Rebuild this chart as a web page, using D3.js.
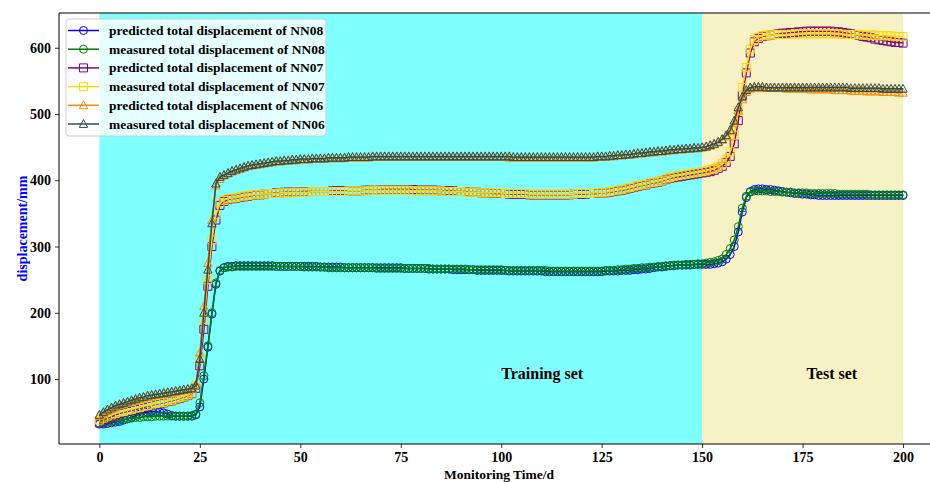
<!DOCTYPE html>
<html>
<head>
<meta charset="utf-8">
<script src="https://cdn.jsdelivr.net/npm/d3@7.9.0/dist/d3.min.js"></script>
<style>
    body { margin: 0; background: #fff; }
    svg text { font-family: "Liberation Serif", "Times New Roman", serif; font-weight: bold; }
</style>
</head>
<body>
<svg id="chart" width="930" height="482"></svg>
<script>
// Values, one value per monitoring day (0..200)
const nn08Predicted = [
    32, 32, 33, 34, 35, 36, 38, 40, 42, 45, 47, 49, 50, 51, 51, 50, 49, 47, 45, 44,
    44, 44, 44, 44, 46, 58, 100, 148, 198, 243, 263, 268, 270, 270, 271, 271, 271, 271, 271, 271,
    271, 271, 271, 271, 270, 270, 270, 270, 270, 270, 270, 270, 270, 270, 270, 269, 269, 269, 269, 269,
    269, 268, 268, 268, 268, 268, 268, 268, 268, 268, 268, 268, 268, 268, 268, 268, 267, 267, 267, 267,
    267, 267, 266, 266, 266, 266, 266, 266, 265, 265, 265, 265, 265, 265, 264, 264, 264, 264, 264, 264,
    264, 264, 263, 263, 263, 263, 263, 263, 263, 263, 263, 262, 262, 262, 262, 262, 262, 262, 262, 262,
    262, 262, 262, 262, 262, 262, 263, 263, 263, 263, 264, 264, 264, 265, 265, 266, 266, 267, 268, 269,
    269, 270, 271, 271, 272, 272, 272, 272, 273, 273, 273, 273, 273, 274, 275, 277, 281, 288, 300, 322,
    352, 374, 383, 386, 387, 387, 386, 386, 385, 384, 383, 382, 381, 380, 380, 379, 379, 378, 378, 377,
    377, 377, 377, 377, 377, 377, 377, 377, 377, 377, 377, 377, 377, 377, 377, 377, 377, 377, 377, 377,
    377
];
const nn08Measured = [
    33, 34, 35, 36, 37, 38, 39, 40, 41, 42, 42, 43, 43, 43, 44, 44, 44, 44, 44, 44,
    44, 44, 44, 45, 47, 64, 105, 150, 200, 245, 264, 268, 269, 269, 270, 270, 270, 270, 270, 270,
    270, 270, 270, 270, 270, 270, 270, 270, 270, 270, 270, 269, 269, 269, 269, 269, 269, 268, 268, 268,
    268, 268, 268, 268, 268, 268, 268, 268, 268, 267, 267, 267, 267, 267, 267, 267, 267, 267, 267, 267,
    267, 267, 267, 266, 266, 266, 266, 266, 266, 266, 266, 266, 265, 265, 265, 265, 265, 265, 265, 265,
    265, 264, 264, 264, 264, 264, 264, 264, 264, 264, 264, 264, 263, 263, 263, 263, 263, 263, 263, 263,
    263, 263, 263, 263, 263, 263, 264, 264, 264, 265, 265, 266, 266, 267, 267, 268, 268, 269, 269, 270,
    270, 271, 271, 272, 272, 272, 273, 273, 273, 274, 274, 275, 276, 277, 279, 281, 288, 297, 310, 330,
    358, 376, 382, 384, 384, 384, 384, 383, 383, 383, 382, 382, 382, 381, 381, 381, 381, 380, 380, 380,
    380, 380, 380, 380, 379, 379, 379, 379, 379, 379, 379, 379, 378, 378, 378, 378, 378, 378, 378, 378,
    378
];
const nn07Predicted = [
    34, 37, 40, 43, 46, 48, 50, 51, 53, 54, 56, 57, 59, 60, 62, 63, 64, 66, 67, 69,
    71, 73, 75, 78, 86, 120, 175, 240, 300, 340, 362, 368, 371, 372, 373, 374, 375, 376, 377, 378,
    378, 379, 380, 380, 381, 381, 382, 382, 382, 382, 383, 383, 383, 383, 383, 383, 383, 383, 384, 384,
    384, 384, 384, 384, 384, 384, 385, 385, 385, 385, 386, 386, 386, 386, 386, 386, 386, 386, 386, 385,
    385, 385, 385, 385, 385, 384, 384, 384, 384, 383, 383, 383, 382, 382, 382, 381, 381, 381, 380, 380,
    380, 380, 379, 379, 379, 379, 379, 378, 378, 378, 378, 378, 378, 378, 378, 378, 378, 378, 379, 379,
    379, 379, 380, 380, 380, 381, 381, 382, 383, 384, 385, 386, 388, 389, 391, 392, 393, 395, 396, 397,
    399, 401, 403, 404, 405, 406, 407, 408, 409, 410, 411, 412, 413, 415, 418, 421, 427, 436, 455, 490,
    528, 562, 592, 609, 614, 617, 618, 619, 620, 621, 622, 622, 623, 623, 624, 624, 625, 625, 625, 625,
    625, 625, 625, 624, 624, 623, 622, 621, 620, 619, 617, 616, 615, 613, 612, 611, 610, 609, 608, 608,
    607
];
const nn07Measured = [
    38, 41, 44, 46, 48, 50, 51, 53, 54, 56, 57, 59, 60, 61, 63, 64, 65, 67, 68, 70,
    72, 74, 76, 79, 90, 130, 190, 250, 310, 348, 366, 370, 372, 373, 374, 375, 376, 377, 378, 378,
    379, 379, 380, 380, 380, 381, 381, 381, 381, 382, 382, 382, 382, 383, 383, 383, 383, 383, 383, 383,
    383, 383, 384, 384, 384, 384, 384, 384, 385, 385, 385, 385, 385, 385, 385, 385, 385, 385, 384, 384,
    384, 384, 384, 384, 384, 384, 383, 383, 383, 383, 383, 382, 382, 382, 382, 381, 381, 381, 381, 381,
    381, 380, 380, 380, 380, 380, 380, 379, 379, 379, 379, 379, 379, 379, 379, 379, 379, 379, 379, 380,
    380, 380, 380, 381, 381, 381, 382, 383, 384, 385, 386, 387, 389, 390, 392, 393, 394, 396, 397, 398,
    400, 402, 404, 406, 407, 408, 409, 410, 411, 412, 413, 414, 416, 418, 421, 425, 432, 443, 468, 505,
    540, 570, 598, 612, 616, 618, 619, 619, 620, 620, 620, 620, 620, 621, 621, 621, 621, 621, 621, 621,
    621, 621, 621, 621, 621, 620, 620, 620, 620, 620, 619, 619, 619, 619, 618, 618, 618, 618, 617, 617,
    617
];
const nn06Predicted = [
    44, 48, 52, 55, 58, 60, 62, 64, 66, 68, 70, 72, 73, 75, 76, 77, 78, 79, 80, 81,
    82, 83, 84, 85, 92, 140, 210, 275, 340, 392, 402, 407, 410, 413, 415, 417, 419, 421, 422, 423,
    424, 425, 426, 427, 428, 428, 429, 429, 430, 430, 431, 431, 431, 432, 432, 432, 432, 433, 433, 433,
    433, 433, 434, 434, 434, 434, 434, 434, 435, 435, 435, 435, 435, 435, 435, 435, 435, 435, 435, 435,
    435, 435, 435, 435, 435, 435, 435, 435, 435, 435, 435, 435, 435, 435, 435, 435, 435, 435, 435, 435,
    435, 435, 434, 434, 434, 434, 434, 434, 434, 434, 434, 434, 434, 434, 434, 434, 434, 434, 434, 434,
    434, 434, 434, 434, 435, 435, 435, 436, 436, 437, 437, 438, 438, 439, 440, 440, 441, 442, 442, 443,
    443, 444, 445, 445, 446, 446, 447, 447, 448, 448, 449, 450, 452, 454, 457, 461, 466, 474, 486, 505,
    522, 533, 538, 539, 539, 539, 539, 539, 539, 539, 539, 538, 538, 538, 538, 538, 538, 537, 537, 537,
    537, 537, 537, 536, 536, 536, 536, 535, 535, 535, 535, 534, 534, 534, 534, 533, 533, 533, 533, 532,
    532
];
const nn06Measured = [
    46, 50, 54, 57, 60, 62, 64, 66, 68, 70, 72, 73, 75, 76, 77, 78, 79, 80, 81, 82,
    83, 84, 85, 86, 90, 130, 200, 265, 335, 395, 405, 408, 411, 414, 416, 418, 420, 422, 423, 424,
    425, 426, 427, 428, 429, 429, 430, 430, 431, 431, 432, 432, 432, 433, 433, 433, 433, 434, 434, 434,
    434, 434, 435, 435, 435, 435, 435, 435, 436, 436, 436, 436, 436, 436, 436, 436, 436, 436, 436, 436,
    436, 436, 436, 436, 436, 436, 436, 436, 436, 436, 436, 436, 436, 436, 436, 436, 436, 436, 436, 436,
    436, 436, 436, 435, 435, 435, 435, 435, 435, 435, 435, 435, 435, 435, 435, 435, 435, 435, 435, 435,
    435, 435, 435, 435, 436, 436, 436, 437, 437, 438, 438, 439, 439, 440, 441, 441, 442, 443, 443, 444,
    444, 445, 446, 446, 447, 447, 448, 448, 449, 449, 450, 451, 453, 455, 458, 462, 468, 476, 490, 510,
    526, 536, 540, 541, 541, 541, 540, 540, 540, 540, 540, 540, 540, 540, 540, 540, 540, 540, 540, 540,
    540, 540, 540, 540, 540, 540, 540, 539, 539, 539, 539, 539, 539, 539, 539, 538, 538, 538, 538, 538,
    538
];

const xTicks = [0, 25, 50, 75, 100, 125, 150, 175, 200];
const yTicks = [100, 200, 300, 400, 500, 600];
const trainingSpan = [0, 150];
const testSpan = [150, 200];

// Series in plotting order (later ones are drawn on top)
const series = [
    { label: 'predicted total displacement of NN08', values: nn08Predicted, color: '#0000ff', marker: 'circle' },
    { label: 'measured total displacement of NN08', values: nn08Measured, color: '#008000', marker: 'circle' },
    { label: 'predicted total displacement of NN07', values: nn07Predicted, color: '#800080', marker: 'square' },
    { label: 'measured total displacement of NN07', values: nn07Measured, color: '#ffd700', marker: 'square' },
    { label: 'predicted total displacement of NN06', values: nn06Predicted, color: '#ff8c00', marker: 'triangle' },
    { label: 'measured total displacement of NN06', values: nn06Measured, color: '#2f4f4f', marker: 'triangle' }
];

const svg = d3.select('#chart');
const plotLeft = 59, plotRight = 939, plotTop = 13, plotBottom = 444;

const x = d3.scaleLinear().domain([-10.05, 208.95]).range([plotLeft, plotRight]);
const y = d3.scaleLinear().domain([2, 652.4]).range([plotBottom, plotTop]);

// Background spans for the training and test sets
svg.append('rect')
    .attr('x', x(trainingSpan[0])).attr('y', plotTop)
    .attr('width', x(trainingSpan[1]) - x(trainingSpan[0])).attr('height', plotBottom - plotTop)
    .attr('fill', '#80ffff');
svg.append('rect')
    .attr('x', x(testSpan[0])).attr('y', plotTop)
    .attr('width', x(testSpan[1]) - x(testSpan[0])).attr('height', plotBottom - plotTop)
    .attr('fill', '#f7f2c5');

// Marker path builders
function markerPath(type) {
    if (type === 'circle') return 'M4,0A4,4 0 1,1 -4,0A4,4 0 1,1 4,0Z';
    if (type === 'square') return 'M-4,-4H4V4H-4Z';
    return 'M0,-4.5L4.2,3.4H-4.2Z';
}

const line = d3.line()
    .x((d, i) => x(i))
    .y((d) => y(d));

const plot = svg.append('g');
series.forEach((s) => {
    const g = plot.append('g');
    g.append('path')
        .attr('d', line(s.values))
        .attr('fill', 'none')
        .attr('stroke', s.color)
        .attr('stroke-width', 1.5);
    g.selectAll('path.m')
        .data(s.values)
        .enter()
        .append('path')
        .attr('class', 'm')
        .attr('d', markerPath(s.marker))
        .attr('transform', (d, i) => `translate(${x(i)},${y(d)})`)
        .attr('fill', 'none')
        .attr('stroke', s.color)
        .attr('stroke-width', 1);
});

// Axes
const xAxis = svg.append('g')
    .attr('transform', `translate(0,${plotBottom})`)
    .call(d3.axisBottom(x).tickValues(xTicks).tickSize(4).tickPadding(4).tickSizeOuter(0));
const yAxis = svg.append('g')
    .attr('transform', `translate(${plotLeft},0)`)
    .call(d3.axisLeft(y).tickValues(yTicks).tickSize(4).tickPadding(4).tickSizeOuter(0));
[xAxis, yAxis].forEach((a) => {
    a.select('.domain').remove();
    a.selectAll('line').attr('stroke', '#000').attr('stroke-width', 0.8);
    a.selectAll('text').attr('fill', '#000').style('font-size', '14px')
        .style('font-family', '"Liberation Serif", serif').style('font-weight', 'bold');
});

// Frame (top, left, bottom spines)
svg.append('path')
    .attr('d', `M${plotRight},${plotTop}H${plotLeft}V${plotBottom}H${plotRight}`)
    .attr('fill', 'none')
    .attr('stroke', '#000')
    .attr('stroke-width', 1);

// Axis labels
svg.append('text')
    .attr('x', (plotLeft + plotRight) / 2).attr('y', 479)
    .attr('text-anchor', 'middle')
    .style('font-size', '13.5px')
    .text('Monitoring Time/d');
svg.append('text')
    .attr('transform', `translate(27,${(plotTop + plotBottom) / 2}) rotate(-90)`)
    .attr('text-anchor', 'middle')
    .attr('fill', '#0000ff')
    .style('font-size', '14px')
    .text('displacement/mm');

// Set annotations
svg.append('text')
    .attr('x', x(100)).attr('y', y(100))
    .style('font-size', '16px')
    .text('Training set');
svg.append('text')
    .attr('x', x(176)).attr('y', y(100))
    .style('font-size', '16px')
    .text('Test set');

// Legend
const legend = svg.append('g').attr('transform', 'translate(66,19)');
legend.append('rect')
    .attr('width', 260).attr('height', 117)
    .attr('rx', 3)
    .attr('fill', '#ffffff').attr('fill-opacity', 0.8)
    .attr('stroke', '#cccccc');
series.forEach((s, i) => {
    const row = legend.append('g').attr('transform', `translate(0,${11.5 + i * 18.7})`);
    row.append('line')
        .attr('x1', 2).attr('x2', 33)
        .attr('stroke', s.color).attr('stroke-width', 1.5);
    row.append('path')
        .attr('d', markerPath(s.marker))
        .attr('transform', 'translate(17.5,0)')
        .attr('fill', 'none')
        .attr('stroke', s.color);
    row.append('text')
        .attr('x', 43).attr('y', 4.5)
        .style('font-size', '13.5px')
        .text(s.label);
});
</script>
</body>
</html>
